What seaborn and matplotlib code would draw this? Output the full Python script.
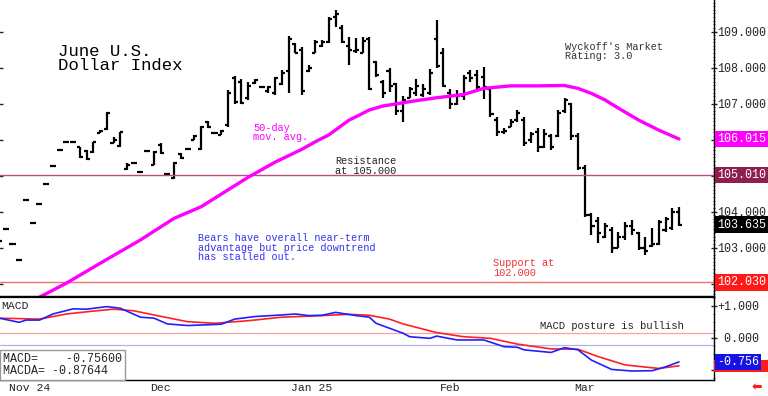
import numpy as np
import matplotlib
matplotlib.use('Agg')
import matplotlib.pyplot as plt
import matplotlib.transforms as mtransforms
from matplotlib.patches import Rectangle
from matplotlib.ticker import MultipleLocator
import seaborn as sns

# <codecell> data (bar 0 = first trading day of Nov 2024)
bar_no = list(range(-1, 101))

opens = [103.17, 103.51, 103.10, 102.65, 104.32, 103.69, 104.21, 104.76, 105.26, 105.71,
         105.94, 105.94, 105.78, 105.68, 105.65, 106.18, 106.30, 105.90, 105.82, 105.18,
         105.34, 105.11, 105.69, 105.30, 105.85, 105.04, 104.92, 105.60, 105.73, 106.00,
         105.75, 106.50, 106.17, 106.13, 106.40, 107.70, 107.60, 107.15, 107.56, 107.45,
         107.35, 107.30, 107.55, 107.90, 108.65, 108.50, 107.90, 108.40, 108.60, 108.70,
         109.40, 109.10, 108.60, 108.45, 108.40, 108.80, 108.15, 107.60, 107.90, 107.55,
         106.80, 107.15, 107.30, 107.25, 107.30, 108.80, 108.40, 107.30, 107.00, 107.20,
         107.85, 107.80, 107.75, 107.40, 106.55, 106.20, 106.35, 106.55, 106.55, 106.00,
         106.20, 105.80, 106.10, 106.10, 106.80, 107.00, 106.10, 105.20, 103.90, 103.75,
         103.30, 103.50, 102.99, 103.30, 103.60, 103.40, 103.00, 103.05, 103.10, 103.50,
         103.55, 104.00]
highs = [103.17, 103.51, 103.10, 102.65, 104.32, 103.69, 104.21, 104.76, 105.26, 105.71,
         105.94, 105.94, 105.80, 105.71, 105.94, 106.26, 106.77, 106.06, 106.22, 105.36,
         105.36, 105.11, 105.69, 105.69, 105.89, 105.04, 105.37, 105.63, 105.73, 106.12,
         106.38, 106.52, 106.17, 106.26, 107.38, 107.76, 107.67, 107.60, 107.67, 107.45,
         107.49, 107.74, 107.93, 108.87, 108.67, 108.58, 108.07, 108.76, 108.76, 109.41,
         109.60, 109.18, 108.86, 108.81, 108.86, 108.85, 108.19, 107.65, 107.98, 107.58,
         107.21, 107.45, 107.67, 107.54, 107.95, 109.32, 108.53, 107.39, 107.38, 107.79,
         107.93, 107.93, 108.02, 107.45, 106.62, 106.31, 106.56, 106.82, 106.62, 106.22,
         106.31, 106.28, 106.14, 106.82, 107.14, 107.01, 106.17, 105.29, 103.97, 103.86,
         103.67, 103.58, 103.44, 103.72, 103.76, 103.44, 103.30, 103.53, 103.76, 103.86,
         104.09, 104.13]
lows = [103.17, 103.51, 103.10, 102.65, 104.32, 103.69, 104.21, 104.76, 105.26, 105.71,
        105.94, 105.94, 105.48, 105.43, 105.63, 106.17, 106.26, 105.89, 105.80, 105.15,
        105.34, 105.11, 105.69, 105.29, 105.60, 105.04, 104.90, 105.46, 105.73, 105.99,
        105.71, 106.31, 106.17, 106.12, 106.36, 107.00, 106.99, 107.10, 107.54, 107.45,
        107.30, 107.24, 107.51, 107.28, 108.39, 107.24, 107.88, 108.39, 108.58, 108.67,
        109.13, 108.67, 108.07, 108.39, 108.39, 107.38, 107.74, 107.14, 107.33, 106.68,
        106.50, 107.14, 107.21, 107.19, 107.24, 107.98, 107.47, 106.84, 106.96, 107.10,
        107.61, 107.38, 107.12, 106.62, 106.10, 106.15, 106.34, 106.49, 105.82, 105.91,
        105.66, 105.77, 105.72, 106.08, 106.73, 105.99, 105.15, 103.86, 103.35, 103.12,
        103.26, 102.84, 102.98, 103.21, 103.35, 102.93, 102.79, 103.02, 103.07, 103.44,
        103.49, 103.60]
closes = [103.17, 103.51, 103.10, 102.65, 104.32, 103.69, 104.21, 104.76, 105.26, 105.71,
          105.94, 105.94, 105.52, 105.45, 105.92, 106.25, 106.75, 106.00, 106.20, 105.30,
          105.36, 105.11, 105.69, 105.66, 105.63, 105.04, 105.35, 105.50, 105.73, 106.10,
          106.35, 106.35, 106.17, 106.24, 107.30, 107.05, 107.02, 107.50, 107.65, 107.45,
          107.45, 107.70, 107.85, 108.80, 108.40, 107.35, 108.00, 108.70, 108.70, 109.35,
          109.50, 108.70, 108.50, 108.50, 108.75, 107.40, 107.80, 107.30, 107.50, 106.80,
          107.10, 107.40, 107.50, 107.40, 107.85, 108.05, 107.50, 107.00, 107.20, 107.70,
          107.70, 107.45, 107.45, 106.70, 106.20, 106.25, 106.50, 106.75, 105.90, 106.15,
          105.80, 106.15, 105.80, 106.75, 107.10, 106.10, 105.20, 103.90, 103.60, 103.40,
          103.60, 103.00, 103.30, 103.60, 103.50, 103.00, 102.90, 103.10, 103.70, 103.80,
          104.00, 103.635]

# 50-day moving average
ma_bar = [5, 9, 14, 20, 25, 29, 33, 36, 40, 44, 46, 48, 51, 52, 54, 56, 58, 61, 64, 68,
          71, 75, 79, 83, 85, 87, 89, 91, 94, 97, 100]
ma_val = [101.62, 102.01, 102.56, 103.21, 103.81, 104.13, 104.60, 104.95, 105.37, 105.73,
          105.94, 106.13, 106.54, 106.63, 106.82, 106.93, 106.99, 107.08, 107.16, 107.25,
          107.42, 107.49, 107.49, 107.50, 107.42, 107.28, 107.10, 106.87, 106.54, 106.26,
          106.015]

# MACD (blue) and MACDA (red)
macd_bar = [-1, 2, 3, 5, 7, 10, 12, 15, 17, 20, 22, 24, 27, 32, 34, 37, 41, 43, 45, 47,
            49, 52, 54, 55, 59, 60, 63, 64, 67, 71, 74, 76, 77, 81, 83, 85, 87, 90, 93, 96,
            98, 100]
macd_val = [0.61, 0.48, 0.55, 0.55, 0.74, 0.90, 0.89, 0.97, 0.92, 0.64, 0.61, 0.43, 0.38,
            0.42, 0.58, 0.66, 0.71, 0.74, 0.69, 0.70, 0.79, 0.69, 0.64, 0.45, 0.14, 0.03,
            -0.02, 0.05, -0.07, -0.07, -0.28, -0.30, -0.38, -0.46, -0.31, -0.38, -0.70,
            -0.99, -1.04, -1.03, -0.91, -0.756]
macda_bar = [-1, 5, 9, 13, 16, 19, 22, 27, 31, 36, 41, 46, 51, 54, 57, 59, 64, 68, 72, 76,
             81, 85, 88, 92, 97, 100]
macda_val = [0.61, 0.58, 0.74, 0.83, 0.89, 0.84, 0.71, 0.50, 0.45, 0.53, 0.64, 0.68, 0.73,
             0.70, 0.58, 0.43, 0.16, 0.03, -0.02, -0.20, -0.35, -0.36, -0.59, -0.85, -0.96,
             -0.87644]

resistance = 105.01
support = 102.03
macd_hi = 0.16
macd_lo = -0.23

month_bar = [0, 21, 42, 64, 84]
month_names = ['Nov 24', 'Dec', 'Jan 25', 'Feb', 'Mar']

# <codecell> figure
sns.set_style('white')
plt.rcParams['font.family'] = ['Liberation Mono', 'DejaVu Sans']

fig = plt.figure(figsize=(7.68, 3.96), dpi=100)
ax = fig.add_axes([0, 0.25, 714/768, 0.75])
axm = fig.add_axes([0, 16/396, 714/768, 83/396])

for a in (ax, axm):
    a.set_xlim(-0.86, 105.2)
    a.set_facecolor('white')
    a.grid(False)
ax.set_ylim(101.625, 109.875)
axm.set_ylim(-1.32, 1.27)

# OHLC bars
bars = np.array(bar_no)
ax.vlines(bars, lows, highs, color='black', lw=1.6)
ax.hlines(opens, bars - 0.45, bars, color='black', lw=1.6)
ax.hlines(closes, bars, bars + 0.45, color='black', lw=1.6)

ax.axhline(resistance, color='#B8507F', lw=1)
ax.axhline(support, color='#F07070', lw=1)
sns.lineplot(x=ma_bar, y=ma_val, ax=ax, color='#FF00FF', lw=2.4)

# MACD panel
axm.axhline(macd_hi, color='#F5A5A5', lw=0.9)
axm.axhline(macd_lo, color='#B0B0F0', lw=0.9)
sns.lineplot(x=macda_bar, y=macda_val, ax=axm, color='#FF2020', lw=1.2)
sns.lineplot(x=macd_bar, y=macd_val, ax=axm, color='#2020FF', lw=1.2)

# spines
for a in (ax, axm):
    a.spines['left'].set_visible(False)
    a.spines['right'].set_color('black')
    a.spines['right'].set_linewidth(1)
ax.spines['top'].set_visible(False)
ax.spines['bottom'].set_color('black')
ax.spines['bottom'].set_linewidth(1.6)
axm.spines['top'].set_color('black')
axm.spines['top'].set_linewidth(1.6)
axm.spines['bottom'].set_color('black')
axm.spines['bottom'].set_linewidth(1)

# price axis
ax.yaxis.tick_right()
ax.set_yticks([102, 103, 104, 105, 106, 107, 108, 109])
ax.set_yticklabels(['', '103.000', '104.000', '', '', '107.000', '108.000', '109.000'])
ax.yaxis.set_minor_locator(MultipleLocator(0.1))
ax.tick_params(axis='y', which='major', left=True, right=True, direction='inout',
               length=5, width=1, labelsize=8.4, pad=0)
ax.tick_params(axis='y', which='minor', left=False, right=True, direction='inout',
               length=2, width=0.6)
ax.tick_params(axis='x', bottom=False, labelbottom=False)
ax.set_xlabel('')
ax.set_ylabel('')

# macd axis (-1.000 sits under the value boxes)
axm.yaxis.tick_right()
axm.set_yticks([-1, 0, 1])
axm.set_yticklabels(['', ' 0.000', '+1.000'])
axm.yaxis.set_minor_locator(MultipleLocator(0.25))
axm.tick_params(axis='y', which='major', right=True, direction='inout', length=5,
                width=1, labelsize=8.4, pad=0)
axm.tick_params(axis='y', which='minor', right=True, direction='inout', length=2, width=0.6)
axm.set_xticks(month_bar)
axm.set_xticklabels(month_names)
axm.tick_params(axis='x', direction='out', length=12, width=1, color='#8a8a8a',
                labelsize=8.2, pad=0)
shift = mtransforms.ScaledTranslation(2/72, 9.5/72, fig.dpi_scale_trans)
for lab in axm.get_xticklabels():
    lab.set_horizontalalignment('left')
    lab.set_transform(lab.get_transform() + shift)
axm.set_xlabel('')
axm.set_ylabel('')

# value boxes on the right
tr = mtransforms.blended_transform_factory(ax.transAxes, ax.transData)
for val, col in [(ma_val[-1], '#FF00FF'), (resistance, '#8E1E50'),
                 (closes[-1], 'black'), (support, '#FF1A1A')]:
    ax.text(1.004, val, f'{val:.3f}', transform=tr, ha='left', va='center', color='white',
            fontsize=8.4, clip_on=False, zorder=5,
            bbox=dict(boxstyle='square,pad=0.2', fc=col, ec='none'))
trm = mtransforms.blended_transform_factory(axm.transAxes, axm.transData)
axm.add_patch(Rectangle((1.0, macda_val[-1] - 0.19), 54/714, 0.38, transform=trm,
                        fc='#FF1A1A', ec='none', clip_on=False, zorder=4))
axm.text(1.004, macd_val[-1], f'{macd_val[-1]:.3f}', transform=trm, ha='left', va='center',
         color='white', fontsize=8.4, clip_on=False, zorder=5,
         bbox=dict(boxstyle='square,pad=0.2', fc='#1414E6', ec='none'))

# annotations
ax.text(7.8, 108.65, 'June U.S.\nDollar Index', fontsize=12.5, va='top', ha='left',
        linespacing=0.95, color='black')
ax.text(83.1, 108.72, "Wyckoff's Market\nRating: 3.0", fontsize=7.4, va='top', ha='left',
        linespacing=0.95, color='#333333')
ax.text(36.7, 106.47, '50-day\nmov. avg.', fontsize=7.4, va='top', ha='left',
        linespacing=0.95, color='#FF00FF')
ax.text(48.9, 105.54, 'Resistance\nat 105.000', fontsize=7.4, va='top', ha='left',
        linespacing=0.95, color='#222222')
ax.text(28.6, 103.40, 'Bears have overall near-term\nadvantage but price downtrend\nhas stalled out.',
        fontsize=7.3, va='top', ha='left', linespacing=0.95, color='#3333EE')
ax.text(72.4, 102.71, 'Support at\n102.000', fontsize=7.4, va='top', ha='left',
        linespacing=0.95, color='#EE3333')

axm.text(0.002, 0.95, 'MACD', transform=axm.transAxes, fontsize=8.2, va='top', ha='left')
axm.text(79.4, 0.37, 'MACD posture is bullish', fontsize=7.6, va='center', ha='left',
         color='#222222')
axm.text(0.004, 0.04, f'MACD=    {macd_val[-1]:.5f}\nMACDA= {macda_val[-1]:.5f}',
         transform=axm.transAxes, fontsize=8.4, va='bottom', ha='left', linespacing=1.0,
         zorder=6, bbox=dict(boxstyle='square,pad=0.25', fc='white', ec='#999999', lw=1))

fig.text(0.993, 0.022, '\u2b05', color='#FF1A1A', fontsize=9, ha='right', va='center',
         family=['DejaVu Sans'])

fig.savefig('out.png', dpi=100, facecolor='white')
